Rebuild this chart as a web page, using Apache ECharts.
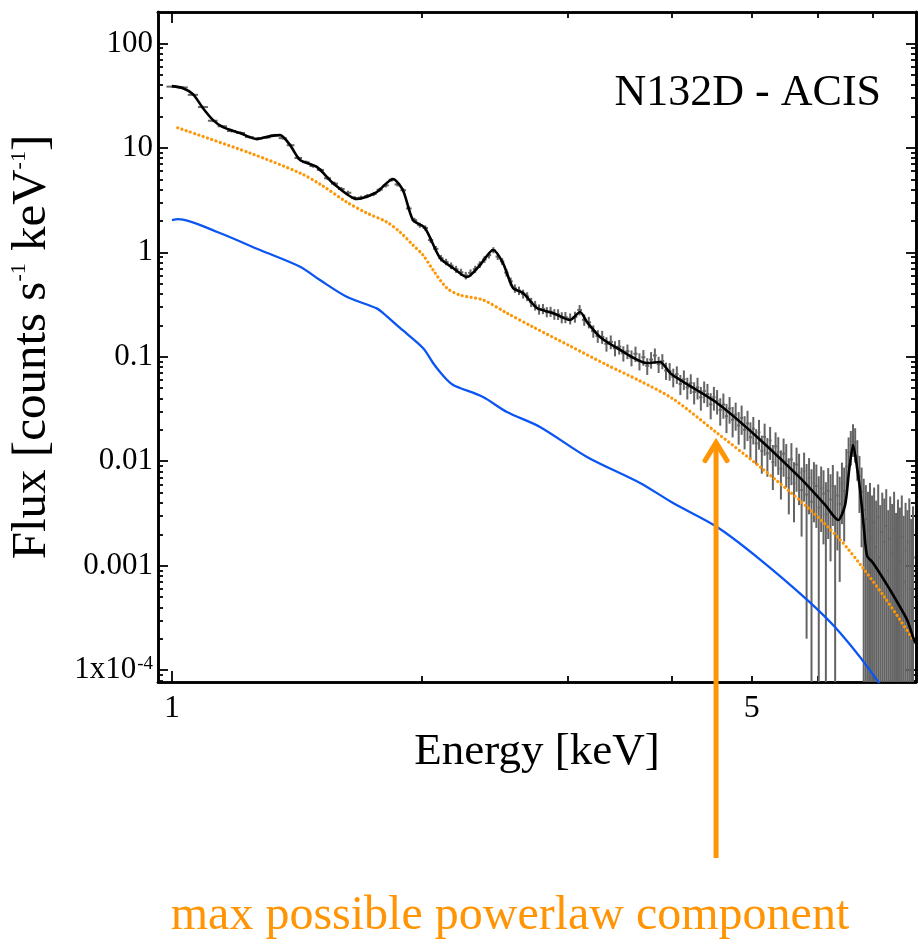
<!DOCTYPE html>
<html><head><meta charset="utf-8">
<script src="https://cdn.jsdelivr.net/npm/echarts@6/dist/echarts.min.js"></script>
<style>html,body{margin:0;padding:0;background:#fff}#c{width:918px;height:946px}</style>
</head><body><div id="c"></div>
<script>
// ---- observed spectrum (binned counts with 1-sigma errors) ----
const dataEnergy = [
 1.00,1.03,1.06,1.09,1.12,1.15,1.18,1.21,1.24,1.27,1.30,1.33,1.36,1.39,1.42,1.45,1.48,1.51,1.54,1.57,
 1.60,1.63,1.66,1.69,1.72,1.75,1.78,1.81,1.84,1.87,1.90,1.93,1.96,1.99,2.02,2.05,2.08,2.11,2.14,2.17,
 2.20,2.23,2.26,2.29,2.32,2.35,2.38,2.41,2.44,2.47,2.50,2.53,2.56,2.59,2.62,2.65,2.68,2.71,2.74,2.77,
 2.80,2.83,2.86,2.89,2.92,2.95,2.98,
 3.02,3.06,3.10,3.14,3.18,3.22,3.26,3.30,3.34,3.38,3.42,3.46,3.50,3.54,3.58,3.62,3.66,3.70,3.74,3.78,
 3.82,3.86,3.90,3.94,3.98,4.02,4.06,4.10,4.14,4.18,4.22,4.26,4.30,4.34,4.38,4.42,4.46,4.50,4.54,4.58,
 4.62,4.66,4.70,4.74,4.78,4.82,4.86,4.90,4.94,4.98,
 5.02,5.06,5.10,5.14,5.18,5.22,5.26,5.30,5.34,5.38,5.42,5.46,5.50,5.54,5.58,5.62,5.66,5.70,5.74,5.78,
 5.82,5.86,5.90,5.94,5.98,6.02,6.06,6.10,6.14,6.18,6.22,6.26,6.30,6.34,6.38,6.42,6.46,6.50,6.54,6.58,
 6.62,6.66,6.70,6.74,6.78,6.82,6.86,6.90,6.94,6.98,7.02,7.06,7.10,7.14,7.18,7.22,7.26,7.30,7.34,7.38,
 7.42,7.46,7.50,7.54,7.58,7.62,7.66,7.70,7.74,7.78,7.82
];
const dataFlux = [
 38.6,37.9,32.2,24.6,18.2,16.1,14.5,13.9,12.7,12.3,12.6,13.2,12.4,10.6,8.0,7.3,6.7,6.15,5.12,4.55,
 4.04,3.72,3.31,3.34,3.46,3.62,3.98,4.38,4.96,4.47,3.93,2.63,2.03,1.82,1.71,1.31,1.08,0.88,0.81,0.745,
 0.69,0.645,0.60,0.636,0.69,0.765,0.855,0.94,1.05,0.91,0.82,0.64,0.527,0.452,0.43,0.40,0.378,0.333,0.31,0.285,
 0.288,0.269,0.271,0.256,0.255,0.238,0.239,
 0.232,0.241,0.281,0.226,0.214,0.176,0.158,0.155,0.133,0.139,0.121,0.125,0.108,0.113,0.098,0.107,0.091,0.099,0.082,0.094,
 0.103,0.085,0.091,0.074,0.073,0.064,0.068,0.055,0.061,0.051,0.056,0.046,0.051,0.041,0.047,0.044,0.035,0.041,0.038,0.031,
 0.035,0.027,0.032,0.025,0.028,0.022,0.026,0.020,0.023,0.017,
 0.0205,0.0148,0.0189,0.0126,0.0171,0.0119,0.0158,0.0098,0.0139,0.0122,0.0085,0.0118,0.0101,0.0069,0.0104,0.0062,0.0093,0.0078,0.0053,0.0081,
 0.0048,0.0069,0.0041,0.0062,0.0058,0.0036,0.0055,0.0049,0.0031,0.0052,0.0043,0.0058,0.0029,0.0047,0.0039,0.0061,0.0052,0.0089,0.0121,0.0143,
 0.0168,0.0152,0.0112,0.0072,0.0051,0.0034,0.0028,0.0022,0.0031,0.0019,0.0026,0.0015,0.0029,0.0012,0.0021,0.0017,0.0024,0.0009,0.0018,0.0013,
 0.0022,0.0008,0.0016,0.0011,0.0019,0.0007,0.0014,0.0010,0.0017,0.0006,0.0012
];
const dataErr = [
 0.9,0.9,0.8,0.7,0.55,0.5,0.45,0.43,0.4,0.4,0.4,0.42,0.4,0.36,0.29,0.27,0.25,0.24,0.21,0.2,
 0.18,0.17,0.15,0.15,0.16,0.17,0.18,0.2,0.21,0.2,0.18,0.14,0.11,0.1,0.1,0.08,0.07,0.062,0.058,0.055,
 0.053,0.051,0.05,0.051,0.054,0.057,0.062,0.066,0.07,0.065,0.062,0.053,0.047,0.042,0.04,0.039,0.037,0.034,0.033,0.032,
 0.032,0.03,0.03,0.03,0.03,0.029,0.029,
 0.028,0.029,0.032,0.028,0.027,0.024,0.022,0.022,0.021,0.021,0.02,0.02,0.018,0.018,0.017,0.018,0.017,0.017,0.015,0.017,
 0.017,0.015,0.015,0.014,0.014,0.013,0.013,0.012,0.013,0.012,0.012,0.011,0.012,0.0105,0.011,0.011,0.0098,0.0105,0.01,0.0091,
 0.0095,0.0084,0.0091,0.0081,0.0084,0.0076,0.0081,0.007,0.0074,0.0066,
 0.006,0.0055,0.006,0.005,0.0058,0.0048,0.0055,0.0045,0.005,0.0048,0.0042,0.0047,0.0045,0.0038,0.0045,0.0036,0.0042,0.004,0.0034,0.004,
 0.0046,0.0038,0.0043,0.0036,0.0035,0.0036,0.0034,0.0033,0.0032,0.0034,0.0032,0.0034,0.003,0.0033,0.0032,0.0036,0.0035,0.0042,0.0048,0.0052,
 0.0058,0.0055,0.0047,0.004,0.0036,0.0034,0.0031,0.0029,0.0031,0.0028,0.003,0.0027,0.0031,0.0026,0.0029,0.0027,0.003,0.0025,0.0028,0.0026,
 0.0029,0.0024,0.0027,0.0025,0.0028,0.0023,0.0026,0.0024,0.0027,0.0022,0.0025
];
// ---- total model (black) ----
const modelEnergy = [1.000,1.031,1.060,1.090,1.121,1.152,1.208,1.266,1.313,1.350,1.388,1.427,1.496,1.564,1.671,1.713,1.766,1.847,1.898,1.952,
 2.018,2.104,2.182,2.268,2.351,2.438,2.506,2.577,2.650,2.754,2.879,3.018,3.104,3.164,3.281,3.440,3.737,3.876,3.985,4.097,
 4.539,5.073,5.716,6.127,6.352,6.477,6.550,6.622,6.696,6.752,6.827,6.884,7.000,7.337,7.692,7.843,7.950];
const modelFlux = [39.0,37.3,32.7,24.0,18.45,15.8,13.86,12.14,12.97,13.26,10.64,7.64,6.55,4.60,3.236,3.38,3.78,5.03,3.95,2.04,
 1.708,0.882,0.708,0.580,0.756,1.052,0.790,0.455,0.408,0.293,0.2625,0.225,0.2684,0.2153,0.1547,0.1214,0.0872,0.0892,0.070,0.060,
 0.0361,0.01708,0.00692,0.00382,0.00274,0.00382,0.00826,0.01432,0.00863,0.00531,0.0022,0.00124,0.001063,0.000587,0.000303,0.000195,0.00016];
// ---- max possible powerlaw component (orange dotted) ----
const powerlawEnergy = [1.016,1.242,1.427,1.508,1.624,1.717,1.815,1.883,1.952,2.007,2.064,2.145,2.224,2.371,2.534,2.724,3.018,3.345,3.666,4.018,
 4.539,5.116,5.83,6.39,6.79,7.24,7.84];
const powerlawFlux = [15.57,8.92,5.74,4.50,3.03,2.38,1.95,1.564,1.175,0.942,0.677,0.455,0.390,0.350,0.262,0.193,0.127,0.0835,0.0587,0.0395,
 0.01866,0.00882,0.00365,0.00177,0.000974,0.000488,0.000191];
// ---- blue component ----
const blueEnergy = [1.000,1.017,1.132,1.277,1.427,1.508,1.624,1.765,1.797,1.883,2.007,2.064,2.104,2.146,2.182,2.224,2.371,2.534,2.777,3.164,
 3.666,4.018,4.539,5.073,5.83,6.39,7.10,7.544];
const blueFlux = [2.04,2.08,1.574,1.052,0.728,0.543,0.376,0.291,0.2625,0.189,0.1214,0.0872,0.0715,0.0600,0.0537,0.0503,0.0412,0.0296,0.0213,0.0110,
 0.0062,0.00398,0.00235,0.00121,0.00047,0.000227,0.0000773,0.0000336];
// ---- ticks / labels ----
const yTickValues = [1e-4, 1e-3, 0.01, 0.1, 1, 10, 100];
const yTickLabels = ['{a|1x10}{s|-4}', '0.001', '0.01', '0.1', '1', '10', '100'];
const xLabelValues = [1, 5];
const xMajorTicks = [1];
const xMinorTicks = [2, 3, 4, 5, 6, 7];
const arrowEnergy = 4.527, arrowTipFlux = 0.0154;

const X_MIN = 0.962, X_MAX = 7.885, Y_MIN = 7.7e-5, Y_MAX = 200;
const FONT = "'Liberation Serif','Times New Roman',serif";
const ORANGE = '#ff9505';

const yMinorTicks = [];
for (let k = -5; k <= 2; k++) for (let m = 2; m <= 9; m++) {
  const v = m * Math.pow(10, k);
  if (v > Y_MIN && v < Y_MAX) yMinorTicks.push(v);
}

function xAxisCfg(pos, ticks, len, labels) {
  return {
    type: 'log', logBase: 10, position: pos, min: X_MIN, max: X_MAX, gridIndex: 0,
    axisLine: {show: true, onZero: false, lineStyle: {color: '#000', width: 2.6}},
    axisTick: {show: true, inside: true, length: len, customValues: ticks, lineStyle: {color: '#000', width: 1.8}},
    axisLabel: labels ? {show: true, customValues: labels, margin: 11, fontFamily: FONT, fontSize: 32, color: '#000'} : {show: false},
    splitLine: {show: false}, minorTick: {show: false}
  };
}
function yAxisCfg(pos, ticks, len, labels) {
  return {
    type: 'log', logBase: 10, position: pos, min: Y_MIN, max: Y_MAX, gridIndex: 0,
    axisLine: {show: true, onZero: false, lineStyle: {color: '#000', width: 2.6}},
    axisTick: {show: true, inside: true, length: len, customValues: ticks, lineStyle: {color: '#000', width: 1.8}},
    axisLabel: labels ? {
      show: true, customValues: labels, margin: 5, fontFamily: FONT, fontSize: 31, color: '#000',
      formatter: function (v) {
        let best = 0;
        for (let i = 0; i < yTickValues.length; i++) {
          if (Math.abs(Math.log10(v) - Math.log10(yTickValues[i])) < Math.abs(Math.log10(v) - Math.log10(yTickValues[best]))) best = i;
        }
        return yTickLabels[best];
      },
      rich: {
        a: {fontFamily: FONT, fontSize: 31, color: '#000'},
        s: {fontFamily: FONT, fontSize: 19, color: '#000', verticalAlign: 'top', padding: [0, 0, 0, 1]}
      }
    } : {show: false},
    splitLine: {show: false}, minorTick: {show: false}
  };
}

const xMain = xAxisCfg('bottom', xMajorTicks, 11, xLabelValues);
xMain.name = 'Energy [keV]';
xMain.nameLocation = 'middle';
xMain.nameGap = 34;
xMain.nameTextStyle = {fontFamily: FONT, fontSize: 45, color: '#000'};

const yMain = yAxisCfg('left', yTickValues, 10, yTickValues);
yMain.name = 'Flux [counts s{s|-1} keV{s|-1}]';
yMain.nameLocation = 'middle';
yMain.nameRotate = 90;
yMain.nameGap = 101;
yMain.nameTextStyle = {fontFamily: FONT, fontSize: 49, color: '#000',
  rich: {s: {fontFamily: FONT, fontSize: 22, color: '#000', verticalAlign: 'top'}}};

const errData = dataEnergy.map((e, i) => {
  const lo = i > 0 ? Math.sqrt(dataEnergy[i - 1] * e) : e * 0.985;
  const hi = i < dataEnergy.length - 1 ? Math.sqrt(dataEnergy[i + 1] * e) : e * 1.005;
  return [e, dataFlux[i], dataErr[i], lo, hi];
});

const chart = echarts.init(document.getElementById('c'), null, {renderer: 'canvas'});
chart.setOption({
  animation: false,
  backgroundColor: '#fff',
  grid: {left: 158, right: 2, top: 12, bottom: 264, containLabel: false},
  xAxis: [
    xMain,
    xAxisCfg('bottom', xMinorTicks, 6, null),
    xAxisCfg('top', xMajorTicks, 11, null),
    xAxisCfg('top', xMinorTicks, 6, null)
  ],
  yAxis: [
    yMain,
    yAxisCfg('left', yMinorTicks, 5, null),
    yAxisCfg('right', yTickValues, 10, null),
    yAxisCfg('right', yMinorTicks, 5, null)
  ],
  series: [
    {
      type: 'custom', name: 'data', xAxisIndex: 0, yAxisIndex: 0, clip: true, z: 1,
      data: errData, encode: {x: 0, y: 1},
      renderItem: function (params, api) {
        const e = api.value(0), v = api.value(1), err = api.value(2), lo = api.value(3), hi = api.value(4);
        const c = api.coord([e, v]);
        const l = api.coord([lo, v]);
        const r = api.coord([hi, v]);
        const bottomVal = v - err > 0 ? v - err : Y_MIN * 0.3;
        const b = api.coord([e, bottomVal]);
        const t = api.coord([e, v + err]);
        const st = {stroke: '#646464', lineWidth: 2};
        return {type: 'group', children: [
          {type: 'line', shape: {x1: l[0], y1: c[1], x2: r[0], y2: c[1]}, style: st},
          {type: 'line', shape: {x1: c[0], y1: t[1], x2: c[0], y2: b[1]}, style: st}
        ]};
      }
    },
    {
      type: 'line', name: 'powerlaw', xAxisIndex: 0, yAxisIndex: 0, showSymbol: false, smooth: 0.3, z: 3,
      data: powerlawEnergy.map((e, i) => [e, powerlawFlux[i]]),
      lineStyle: {color: ORANGE, width: 3.2, type: [0.1, 4.4], cap: 'round'}
    },
    {
      type: 'line', name: 'model', xAxisIndex: 0, yAxisIndex: 0, showSymbol: false, smooth: 0.25, z: 4,
      data: modelEnergy.map((e, i) => [e, modelFlux[i]]),
      lineStyle: {color: '#000', width: 2.6}
    },
    {
      type: 'line', name: 'component', xAxisIndex: 0, yAxisIndex: 0, showSymbol: false, smooth: 0.3, z: 4,
      data: blueEnergy.map((e, i) => [e, blueFlux[i]]),
      lineStyle: {color: '#0b55f2', width: 2.3}
    }
  ]
});

const tip = chart.convertToPixel({xAxisIndex: 0, yAxisIndex: 0}, [arrowEnergy, arrowTipFlux]);
chart.setOption({
  graphic: [
    {type: 'text', z: 10, style: {text: 'N132D - ACIS', x: 881, y: 93, textAlign: 'right', align: 'right',
      textVerticalAlign: 'middle', verticalAlign: 'middle', fontFamily: FONT, fontSize: 44, fill: '#000'}},
    {type: 'text', z: 10, style: {text: 'max possible powerlaw component', x: 510, y: 916, textAlign: 'center', align: 'center',
      textVerticalAlign: 'middle', verticalAlign: 'middle', fontFamily: FONT, fontSize: 48, fill: ORANGE}},
    {type: 'line', z: 10, shape: {x1: tip[0], y1: tip[1] + 2, x2: tip[0], y2: 858}, style: {stroke: ORANGE, lineWidth: 5}},
    {type: 'polyline', z: 10, shape: {points: [[tip[0] - 11, tip[1] + 19], [tip[0], tip[1] + 1], [tip[0] + 11, tip[1] + 19]]},
      style: {stroke: ORANGE, lineWidth: 5, fill: null, lineJoin: 'miter', lineCap: 'round'}}
  ]
});
</script>
</body></html>
